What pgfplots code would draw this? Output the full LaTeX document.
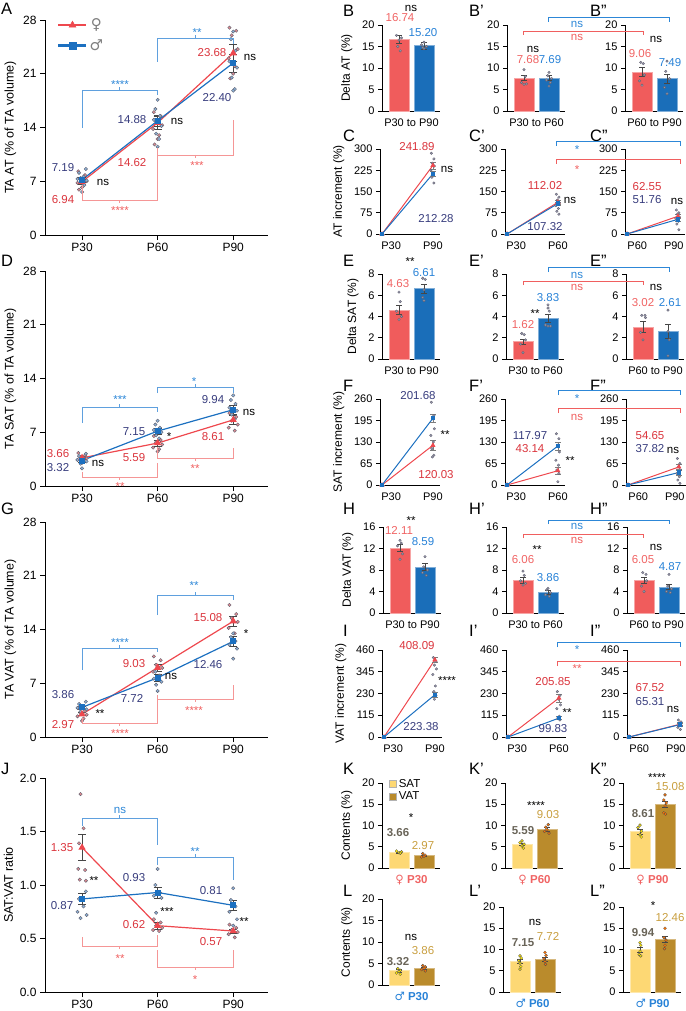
\documentclass[border=0pt]{standalone}
\usepackage{pgfplots}
\pgfplotsset{compat=1.18}
\usepackage{fontspec}
\setmainfont{Liberation Sans}
\newfontfamily\symf{DejaVu Sans}
\definecolor{redL}{RGB}{238,72,78}
\definecolor{blueL}{RGB}{28,112,192}
\definecolor{redB}{RGB}{240,92,92}
\definecolor{blueB}{RGB}{26,110,185}
\definecolor{redT}{RGB}{218,52,60}
\definecolor{navyT}{RGB}{55,60,125}
\definecolor{blueT}{RGB}{40,130,215}
\definecolor{pinkT}{RGB}{240,100,100}
\definecolor{brB}{RGB}{95,160,222}
\definecolor{brR}{RGB}{245,150,150}
\definecolor{stB}{RGB}{45,135,215}
\definecolor{stR}{RGB}{240,95,95}
\definecolor{satF}{RGB}{253,216,116}
\definecolor{vatF}{RGB}{186,139,44}
\definecolor{satT}{RGB}{105,100,88}
\definecolor{vatT}{RGB}{200,158,62}
\definecolor{errC}{RGB}{70,70,70}
\definecolor{dotRf}{RGB}{225,140,145}
\definecolor{dotBf}{RGB}{140,178,215}
\definecolor{dotE}{RGB}{95,95,110}
\definecolor{dotGf}{RGB}{150,150,170}
\newcommand\tk{\fontsize{11}{12}\selectfont}
\newcommand\tkb{\fontsize{12}{13}\selectfont}
\newcommand\vf{\fontsize{11.5}{12}\selectfont}
\newcommand\lf{\fontsize{12}{13}\selectfont}
\newcommand\lfb{\fontsize{12.5}{13}\selectfont}
\newcommand\pf{\fontsize{16.5}{17}\selectfont}
\newcommand\V[4]{\node[text=#1, font=\vf, inner sep=0pt] at (#2,#3) {#4};}
\newcommand\St[4]{\node[text=#1, font=\vf, inner sep=0pt, yshift=-2.5pt] at (#2,#3) {#4};}
\newcommand\Bk[7]{\draw[#1, line width=0.6pt] (#2,#3) -- (#2,#6) -- (#4,#6) -- (#4,#5); \draw[#1, line width=0.6pt] ({(#2+#4)/2},#6) -- ++(0,#7);}
\newcommand\PL[3]{\node[anchor=north west, inner sep=0pt, font=\pf] at (#1,#2) {#3};}
\pgfplotsset{
  base/.style={scale only axis, axis lines=left, axis line style={-, line width=0.7pt},
    tick align=outside, major tick length=4pt, tick style={black, line width=0.7pt},
    ticklabel style={font=\tk}, label style={font=\lf}, clip=false, ymin=0,
    /pgf/number format/assume math mode=true},
  big/.style={base, width=223pt, height=215pt, xmin=-0.49, xmax=2.46, xtick={0,1,2},
    xticklabels={P30,P60,P90}, major tick length=5pt, ticklabel style={font=\tkb}, label style={font=\lfb}},
  sline/.style={base, width=60pt, xmin=-0.04, xmax=1.14, xtick={0.18,1}, xtick style={draw=none}, ylabel shift=3pt},
  sbar/.style={base, width=58pt, height=86pt, xmin=-0.68, xmax=1.64, xtick={0.5}, xtick style={draw=none}, ylabel shift=3pt},
  dotR/.style={only marks, mark=*, mark size=1.7pt, mark options={fill=dotRf, draw=dotE, line width=0.4pt}},
  dotB/.style={only marks, mark=*, mark size=1.7pt, mark options={fill=dotBf, draw=dotE, line width=0.4pt}},
  dotG/.style={only marks, mark=*, mark size=1.3pt, mark options={fill=dotGf, draw=dotE, line width=0.3pt}},
  dotY/.style={only marks, mark=*, mark size=1.5pt, mark options={fill=yellow!90!orange, draw=black!70, line width=0.3pt}},
  dotO/.style={only marks, mark=*, mark size=1.5pt, mark options={fill=orange!90!red, draw=black!70, line width=0.3pt}},
  lineR/.style={redL, line width=1.2pt, mark=triangle*, mark size=3pt, mark options={fill=redL, draw=redL},
    error bars/.cd, y dir=both, y explicit, error bar style={errC, line width=0.5pt},
    error mark options={errC, rotate=90, mark size=4pt, line width=0.5pt}},
  lineB/.style={blueL, line width=1.2pt, mark=square*, mark size=2.4pt, mark options={fill=blueL, draw=blueL},
    error bars/.cd, y dir=both, y explicit, error bar style={errC, line width=0.5pt},
    error mark options={errC, rotate=90, mark size=4pt, line width=0.5pt}},
  lineRs/.style={redL, line width=1pt, mark=triangle*, mark size=2pt, mark options={fill=redL, draw=redL},
    error bars/.cd, y dir=both, y explicit, error bar style={errC!70, line width=0.5pt},
    error mark options={errC!70, rotate=90, mark size=3pt, line width=0.5pt}},
  lineBs/.style={blueL, line width=1pt, mark=square*, mark size=1.7pt, mark options={fill=blueL, draw=blueL},
    error bars/.cd, y dir=both, y explicit, error bar style={errC!70, line width=0.5pt},
    error mark options={errC!70, rotate=90, mark size=3pt, line width=0.5pt}},
  bR/.style={ybar, bar width=20pt, bar shift=0pt, fill=redB, draw=redB!55!white, line width=0.6pt,
    error bars/.cd, y dir=both, y explicit, error bar style={draw=errC, line width=0.5pt},
    error mark options={errC, rotate=90, mark size=3pt, line width=0.5pt}},
  bB/.style={ybar, bar width=20pt, bar shift=0pt, fill=blueB, draw=blueB!55!white, line width=0.6pt,
    error bars/.cd, y dir=both, y explicit, error bar style={draw=errC, line width=0.5pt},
    error mark options={errC, rotate=90, mark size=3pt, line width=0.5pt}},
  bS/.style={ybar, bar width=20pt, bar shift=0pt, fill=satF, draw=satF!60!white, line width=0.6pt,
    error bars/.cd, y dir=both, y explicit, error bar style={draw=errC, line width=0.5pt},
    error mark options={errC, rotate=90, mark size=3pt, line width=0.5pt}},
  bV/.style={ybar, bar width=20pt, bar shift=0pt, fill=vatF, draw=vatF!60!white, line width=0.6pt,
    error bars/.cd, y dir=both, y explicit, error bar style={draw=errC, line width=0.5pt},
    error mark options={errC, rotate=90, mark size=3pt, line width=0.5pt}},
}
\begin{document}
\begin{tikzpicture}
\useasboundingbox (0,0) rectangle (685pt,-1011pt);

% ================= A =================
\begin{axis}[big, at={(45pt,-235pt)}, anchor=south west, ymax=28, ytick={0,7,14,21,28}, ylabel={TA AT (\% of TA volume)},
  legend style={at={(0.054,1.015)}, anchor=north west, draw=none, fill=none, inner sep=0pt, row sep=4pt, font=\fontsize{15}{15}\selectfont},
  legend image code/.code={\draw[mark repeat=2,mark phase=2,#1] plot coordinates {(0pt,0pt)(14pt,0pt)(28pt,0pt)};}]
\addlegendimage{redL, line width=2.5pt, mark=triangle*, mark size=4pt, mark options={fill=redL, line width=0.5pt}}
\addlegendentry{\textcolor{gray}{\symf ♀}}
\addlegendimage{blueL, line width=2.5pt, mark=square*, mark size=3.3pt, mark options={fill=blueL, line width=0.5pt}}
\addlegendentry{\textcolor{gray}{\symf ♂}}
\addplot[dotR] coordinates {(-0.05,8.3)(0.04,7.8)(-0.02,7.4)(0.06,7.0)(-0.06,6.8)(0.02,6.6)(0,6.2)(-0.04,5.9)
 (0.95,16.0)(1.04,15.5)(0.98,14.8)(1.06,14.3)(0.94,13.8)(1.02,13.0)(1,12.5)(0.96,11.8)
 (1.95,27.0)(2.04,26.6)(1.98,26.0)(2.06,24.2)(1.94,23.0)(2.02,22.0)(2,21.0)(1.96,20.4)};
\addplot[dotB] coordinates {(0.05,8.6)(-0.04,8.1)(0.02,7.6)(-0.06,7.3)(0.06,7.1)(-0.02,6.9)(0.03,6.5)(0,5.6)
 (1.0,17.6)(0.97,16.4)(1.03,15.5)(0.95,15.0)(1.05,14.2)(0.98,13.2)(1.02,12.5)(1,11.5)
 (2,26.5)(1.97,25.5)(2.03,24.0)(1.95,22.6)(2.05,21.8)(1.98,20.5)(2.02,19.0)(2,18.8)};
\addplot[lineR] coordinates {(0,6.94) +- (0,0.35) (1,14.62) +- (0,0.8) (2,23.68) +- (0,1.1)};
\addplot[lineB] coordinates {(0,7.19) +- (0,0.3) (1,14.88) +- (0,0.7) (2,22.40) +- (0,1.2)};
\end{axis}

% ================= D =================
\begin{axis}[big, at={(45pt,-486pt)}, anchor=south west, ymax=28, ytick={0,7,14,21,28}, ylabel={TA SAT (\% of TA volume)}]
\addplot[dotR] coordinates {(-0.05,4.3)(0.04,4.0)(-0.02,3.8)(0.06,3.6)(-0.06,3.4)(0.02,3.2)(0,3.0)
 (0.95,6.5)(1.04,6.0)(0.98,5.7)(1.06,5.4)(0.94,5.0)(1.02,4.8)(1,4.5)
 (1.95,9.5)(2.04,9.0)(1.98,8.5)(2.06,8.0)(1.94,7.6)(2.02,7.2)};
\addplot[dotB] coordinates {(0.05,4.2)(-0.04,3.9)(0.02,3.6)(-0.06,3.4)(0.06,3.2)(-0.02,2.9)(0,2.3)
 (1.0,8.5)(0.97,8.0)(1.03,7.6)(0.95,7.3)(1.05,7.0)(0.98,6.6)(1.02,6.2)
 (2,11.8)(1.97,11.2)(2.03,10.7)(1.95,10.2)(2.05,9.8)(1.98,9.3)(2.02,8.7)};
\addplot[lineR] coordinates {(0,3.66) +- (0,0.2) (1,5.59) +- (0,0.4) (2,8.61) +- (0,0.6)};
\addplot[lineB] coordinates {(0,3.32) +- (0,0.2) (1,7.15) +- (0,0.4) (2,9.94) +- (0,0.6)};
\end{axis}

% ================= G =================
\begin{axis}[big, at={(45pt,-737pt)}, anchor=south west, ymax=28, ytick={0,7,14,21,28}, ylabel={TA VAT (\% of TA volume)}]
\addplot[dotR] coordinates {(-0.05,3.8)(0.04,3.4)(-0.02,3.1)(0.06,2.9)(-0.06,2.7)(0.02,2.4)(0,2.1)
 (0.95,10.5)(1.04,10.0)(0.98,9.4)(1.06,9.0)(0.94,8.5)(1.02,8.0)
 (1.95,17.2)(2.04,16.0)(1.98,15.5)(2.06,15.0)(1.94,14.2)(2.02,13.5)};
\addplot[dotB] coordinates {(0.05,4.6)(-0.04,4.3)(0.02,4.0)(-0.06,3.8)(0.06,3.6)(-0.02,3.3)(0,3.0)
 (1.0,9.2)(0.97,8.5)(1.03,8.0)(0.95,7.6)(1.05,7.2)(0.98,6.8)(1.0,6.0)
 (2,13.5)(1.97,13.0)(2.03,12.5)(1.95,12.0)(2.05,11.5)(2,10.2)};
\addplot[lineR] coordinates {(0,2.97) +- (0,0.2) (1,9.03) +- (0,0.5) (2,15.08) +- (0,0.6)};
\addplot[lineB] coordinates {(0,3.86) +- (0,0.2) (1,7.72) +- (0,0.5) (2,12.46) +- (0,0.6)};
\end{axis}

% ================= J =================
\begin{axis}[big, at={(45pt,-992pt)}, anchor=south west, height=214pt, ymax=2, ytick={0,0.5,1,1.5,2}, ylabel={SAT:VAT ratio},
  yticklabel style={/pgf/number format/.cd, fixed, fixed zerofill, precision=1}]
\addplot[dotR] coordinates {(-0.02,1.85)(0.02,1.53)(-0.04,1.39)(-0.05,1.15)(0.04,1.14)(-0.03,1.05)(0.05,1.04)
 (0.95,0.68)(1.04,0.65)(0.98,0.62)(1.06,0.60)(0.94,0.58)(1.02,0.57)
 (1.95,0.63)(2.04,0.60)(1.98,0.58)(2.06,0.56)(1.94,0.54)(2.02,0.51)};
\addplot[dotB] coordinates {(0.05,0.94)(-0.04,0.87)(0.02,0.80)(-0.06,0.75)(0.06,0.72)(-0.02,0.69)
 (1.0,1.15)(0.97,1.0)(1.03,0.93)(0.95,0.90)(1.05,0.88)(0.98,0.74)
 (2,0.97)(1.97,0.86)(2.03,0.80)(1.95,0.75)(2.05,0.68)(2,0.62)};
\addplot[lineR] coordinates {(0,1.35) +- (0,0.12) (1,0.62) +- (0,0.03) (2,0.57) +- (0,0.02)};
\addplot[lineB] coordinates {(0,0.87) +- (0,0.05) (1,0.93) +- (0,0.05) (2,0.81) +- (0,0.05)};
\end{axis}

% ================= B row =================
\begin{axis}[sbar, at={(382pt,-111pt)}, anchor=south west, ymax=20, ytick={0,5,10,15,20}, xticklabels={P30 to P90}, ylabel={Delta AT (\%)}]
\addplot[bR] coordinates {(0,16.74) +- (0,0.9)};
\addplot[bB] coordinates {(1,15.20) +- (0,0.8)};
\addplot[dotG] coordinates {(-0.1,17.6)(0.1,17.0)(0,16.5)(-0.05,15.0)(0.05,14.0)(1,16.0)(0.9,15.4)(1.1,15.0)(1.0,14.5)(0.95,14.8)};
\end{axis}
\begin{axis}[sbar, at={(507pt,-111pt)}, anchor=south west, ymax=20, ytick={0,5,10,15,20}, xticklabels={P30 to P60}]
\addplot[bR] coordinates {(0,7.68) +- (0,0.6)};
\addplot[bB] coordinates {(1,7.69) +- (0,0.6)};
\addplot[dotG] coordinates {(0,9.6)(0.05,8.0)(-0.1,6.6)(0.1,6.3)(0,6.2)(1,9.0)(0.95,8.2)(1.1,7.6)(0.9,7.2)(1.05,6.6)(1,5.8)};
\end{axis}
\begin{axis}[sbar, at={(625pt,-111pt)}, anchor=south west, ymax=20, ytick={0,5,10,15,20}, xticklabels={P60 to P90}]
\addplot[bR] coordinates {(0,9.06) +- (0,1.0)};
\addplot[bB] coordinates {(1,7.49) +- (0,1.0)};
\addplot[dotG] coordinates {(-0.05,11.3)(0.05,11.0)(0.1,8.4)(-0.1,7.0)(0,6.0)(1,11.6)(0.95,9.2)(1.1,7.5)(0.9,5.5)(1,4.0)};
\end{axis}

% ================= C row =================
\begin{axis}[sline, at={(380pt,-234pt)}, anchor=south west, height=85pt, ymax=300, ytick={0,75,150,225,300}, xticklabels={P30,P90}, ylabel={AT increment (\%)}]
\addplot[dotG] coordinates {(0.97,285)(1.02,265)(0.99,250)(1.03,240)(0.96,225)(1.01,215)(0.98,200)(1.02,180)};
\addplot[lineRs] coordinates {(0,0) +- (0,0) (1,241.89) +- (0,12)};
\addplot[lineBs] coordinates {(0,0) +- (0,0) (1,212.28) +- (0,10)};
\end{axis}
\begin{axis}[sline, at={(505pt,-234pt)}, anchor=south west, height=85pt, ymax=300, ytick={0,75,150,225,300}, xticklabels={P30,P60}]
\addplot[dotG] coordinates {(0.97,140)(1.02,130)(0.99,120)(1.03,110)(0.96,100)(1.01,90)(0.98,80)(1.02,70)};
\addplot[lineRs] coordinates {(0,0) +- (0,0) (1,112.02) +- (0,8)};
\addplot[lineBs] coordinates {(0,0) +- (0,0) (1,107.32) +- (0,6)};
\end{axis}
\begin{axis}[sline, at={(625pt,-234pt)}, anchor=south west, height=85pt, ymax=300, ytick={0,75,150,225,300}, xtick={0.2,0.92}, xticklabels={P60,P90}]
\addplot[dotG] coordinates {(0.97,85)(1.02,75)(0.99,70)(1.03,60)(0.96,55)(1.01,45)(0.98,35)(1.02,15)};
\addplot[lineRs] coordinates {(0,0) +- (0,0) (1,62.55) +- (0,6)};
\addplot[lineBs] coordinates {(0,0) +- (0,0) (1,51.76) +- (0,6)};
\end{axis}

% ================= E row =================
\begin{axis}[sbar, at={(382pt,-359pt)}, anchor=south west, height=85pt, ymax=8, ytick={0,2,4,6,8}, xticklabels={P30 to P90}, ylabel={Delta SAT (\%)}]
\addplot[bR] coordinates {(0,4.63) +- (0,0.45)};
\addplot[bB] coordinates {(1,6.61) +- (0,0.4)};
\addplot[dotG] coordinates {(0,6.3)(0.05,5.4)(-0.1,4.5)(0.1,4.0)(0,3.7)(0.95,7.6)(1.05,7.5)(1,6.5)(0.95,5.8)(1.0,5.5)};
\end{axis}
\begin{axis}[sbar, at={(506pt,-359pt)}, anchor=south west, height=85pt, ymax=8, ytick={0,2,4,6,8}, xticklabels={P30 to P60}]
\addplot[bR] coordinates {(0,1.62) +- (0,0.25)};
\addplot[bB] coordinates {(1,3.83) +- (0,0.4)};
\addplot[dotG] coordinates {(-0.05,2.4)(0.05,2.3)(0.1,1.8)(-0.1,1.4)(0,0.6)(1,5.1)(1.0,4.8)(1.05,4.5)(0.9,3.2)(1.0,3.1)(1.1,3.1)};
\end{axis}
\begin{axis}[sbar, at={(626pt,-359pt)}, anchor=south west, height=85pt, ymax=8, ytick={0,2,4,6,8}, xticklabels={P60 to P90}]
\addplot[bR] coordinates {(0,3.02) +- (0,0.5)};
\addplot[bB] coordinates {(1,2.61) +- (0,0.7)};
\addplot[dotG] coordinates {(-0.05,4.1)(0.08,4.1)(0.1,3.9)(-0.1,2.5)(0,1.8)(1,4.6)(1.0,2.6)(1.05,1.8)(1,0.3)};
\end{axis}

% ================= F row =================
\begin{axis}[sline, at={(380pt,-485pt)}, anchor=south west, height=86pt, ymax=260, ytick={0,65,130,195,260}, xticklabels={P30,P90}, ylabel={SAT increment (\%)}]
\addplot[dotG] coordinates {(0.97,250)(1.02,210)(0.99,200)(1.03,170)(0.96,150)(1.01,130)(0.98,110)(1.02,90)(0.99,85)};
\addplot[lineRs] coordinates {(0,0) +- (0,0) (1,120.03) +- (0,15)};
\addplot[lineBs] coordinates {(0,0) +- (0,0) (1,201.68) +- (0,12)};
\end{axis}
\begin{axis}[sline, at={(505pt,-485pt)}, anchor=south west, height=86pt, ymax=260, ytick={0,65,130,195,260}, xticklabels={P30,P60}]
\addplot[dotG] coordinates {(0.97,155)(1.02,140)(0.99,120)(1.03,100)(0.96,75)(1.01,60)(0.98,45)(1.02,35)(1.0,10)};
\addplot[lineRs] coordinates {(0,0) +- (0,0) (1,43.14) +- (0,10)};
\addplot[lineBs] coordinates {(0,0) +- (0,0) (1,117.97) +- (0,12)};
\end{axis}
\begin{axis}[sline, at={(626pt,-485pt)}, anchor=south west, height=86pt, ymax=260, ytick={0,65,130,195,260}, xtick={0.2,0.92}, xticklabels={P60,P90}]
\addplot[dotG] coordinates {(0.97,80)(1.02,65)(0.99,55)(1.03,45)(0.96,35)(1.01,25)(0.98,15)(1.02,5)};
\addplot[lineRs] coordinates {(0,0) +- (0,0) (1,54.65) +- (0,8)};
\addplot[lineBs] coordinates {(0,0) +- (0,0) (1,37.82) +- (0,8)};
\end{axis}

% ================= H row =================
\begin{axis}[sbar, at={(383pt,-613pt)}, anchor=south west, ymax=16, ytick={0,4,8,12,16}, xticklabels={P30 to P90}, ylabel={Delta VAT (\%)}]
\addplot[bR] coordinates {(0,12.11) +- (0,0.6)};
\addplot[bB] coordinates {(1,8.59) +- (0,0.6)};
\addplot[dotG] coordinates {(0,13.5)(0.05,13.0)(-0.1,12.5)(0.1,11.0)(0,10.0)(1,10.5)(0.95,8.6)(1.1,8.0)(0.9,7.5)(1.05,7.0)};
\end{axis}
\begin{axis}[sbar, at={(506pt,-613pt)}, anchor=south west, ymax=16, ytick={0,4,8,12,16}, xticklabels={P30 to P60}]
\addplot[bR] coordinates {(0,6.06) +- (0,0.5)};
\addplot[bB] coordinates {(1,3.86) +- (0,0.3)};
\addplot[dotG] coordinates {(0,7.8)(0.05,7.0)(-0.1,6.0)(0.1,5.5)(0,5.2)(1,4.6)(0.95,4.3)(1.1,3.8)(0.9,3.4)(1.05,3.1)};
\end{axis}
\begin{axis}[sbar, at={(627pt,-613pt)}, anchor=south west, ymax=16, ytick={0,4,8,12,16}, xticklabels={P60 to P90}]
\addplot[bR] coordinates {(0,6.05) +- (0,0.6)};
\addplot[bB] coordinates {(1,4.87) +- (0,0.5)};
\addplot[dotG] coordinates {(-0.05,7.5)(0.08,7.2)(0.1,6.0)(-0.1,5.0)(0,4.0)(1,7.2)(0.95,5.0)(1.1,4.5)(0.9,4.0)(1.05,3.8)};
\end{axis}

% ================= I row =================
\begin{axis}[sline, at={(382pt,-737pt)}, anchor=south west, height=87pt, ymax=460, ytick={0,115,230,345,460}, xticklabels={P30,P90}, ylabel={VAT increment (\%)}]
\addplot[dotG] coordinates {(0.97,420)(1.02,400)(0.99,380)(1.03,360)(0.96,330)(1.01,270)(0.98,240)(1.02,220)(0.99,200)};
\addplot[lineRs] coordinates {(0,0) +- (0,0) (1,408.09) +- (0,15)};
\addplot[lineBs] coordinates {(0,0) +- (0,0) (1,223.38) +- (0,15)};
\end{axis}
\begin{axis}[sline, at={(506pt,-737pt)}, anchor=south west, height=87pt, ymax=460, ytick={0,115,230,345,460}, xticklabels={P30,P60}]
\addplot[dotG] coordinates {(0.97,240)(1.02,220)(0.99,200)(1.03,170)(0.96,150)(1.01,110)(0.98,100)(1.02,90)};
\addplot[lineRs] coordinates {(0,0) +- (0,0) (1,205.85) +- (0,20)};
\addplot[lineBs] coordinates {(0,0) +- (0,0) (1,99.83) +- (0,8)};
\end{axis}
\begin{axis}[sline, at={(627pt,-737pt)}, anchor=south west, height=87pt, ymax=460, ytick={0,115,230,345,460}, xtick={0.2,0.92}, xticklabels={P60,P90}]
\addplot[dotG] coordinates {(0.97,90)(1.02,80)(0.99,70)(1.03,60)(0.96,50)(1.01,40)};
\addplot[lineRs] coordinates {(0,0) +- (0,0) (1,67.52) +- (0,8)};
\addplot[lineBs] coordinates {(0,0) +- (0,0) (1,65.31) +- (0,8)};
\end{axis}

% ================= K row =================
\begin{axis}[sbar, at={(382pt,-868pt)}, anchor=south west, height=85pt, ymax=20, ytick={0,5,10,15,20}, ylabel={Contents (\%)},
  xticklabels={{\symf ♀} \textbf{P30}}, xticklabel style={text=pinkT, font=\vf},
  legend style={at={(0.12,1.07)}, anchor=north west, draw=none, fill=none, inner sep=0pt, font=\vf, row sep=-1pt},
  legend cell align=left]
\addplot[legend image code/.code={\draw[fill=satF, draw=gray!60] (0pt,-3.5pt) rectangle (7pt,3.5pt);}, bS] coordinates {(0,3.66) +- (0,0.15)};
\addlegendentry{SAT}
\addplot[legend image code/.code={\draw[fill=vatF, draw=gray!60] (0pt,-3.5pt) rectangle (7pt,3.5pt);}, bV] coordinates {(1,2.97) +- (0,0.15)};
\addlegendentry{VAT}
\addplot[forget plot, dotY] coordinates {(-0.1,4.0)(0.1,3.8)(0,3.6)(0.05,3.5)};
\addplot[forget plot, dotO] coordinates {(0.95,3.4)(1.05,3.0)(1,2.8)(0.9,2.6)};
\end{axis}
\begin{axis}[sbar, at={(505pt,-868pt)}, anchor=south west, height=85pt, ymax=20, ytick={0,5,10,15,20},
  xticklabels={{\symf ♀} \textbf{P60}}, xticklabel style={text=pinkT, font=\vf}]
\addplot[bS] coordinates {(0,5.59) +- (0,0.35)};
\addplot[bV] coordinates {(1,9.03) +- (0,0.45)};
\addplot[dotY] coordinates {(0,6.4)(-0.08,6.0)(0.08,5.6)(0,5.2)(0.05,4.7)};
\addplot[dotO] coordinates {(1.05,10.2)(0.95,9.6)(1,9.0)(0.9,8.6)(1.08,8.2)};
\end{axis}
\begin{axis}[sbar, at={(623pt,-868pt)}, anchor=south west, height=85pt, ymax=20, ytick={0,5,10,15,20},
  xticklabels={{\symf ♀} \textbf{P90}}, xticklabel style={text=pinkT, font=\vf}]
\addplot[bS] coordinates {(0,8.61) +- (0,0.6)};
\addplot[bV] coordinates {(1,15.08) +- (0,0.7)};
\addplot[dotY] coordinates {(0,10.1)(-0.08,9.5)(0.05,8.7)(0,7.8)(0.05,7.3)};
\addplot[dotO] coordinates {(1,17.2)(0.95,16.0)(1.05,15.3)(1,14.6)(0.95,13.0)(1.02,12.7)};
\end{axis}

% ================= L row =================
\begin{axis}[sbar, at={(382pt,-985pt)}, anchor=south west, height=86pt, ymax=20, ytick={0,5,10,15,20}, ylabel={Contents (\%)},
  xticklabels={{\symf ♂} \textbf{P30}}, xticklabel style={text=blueT, font=\vf}]
\addplot[bS] coordinates {(0,3.32) +- (0,0.25)};
\addplot[bV] coordinates {(1,3.86) +- (0,0.25)};
\addplot[dotY] coordinates {(-0.05,3.8)(0.05,3.4)(0,3.1)(-0.1,2.8)(0.05,2.5)};
\addplot[dotO] coordinates {(0.95,4.5)(1.05,4.2)(1,3.9)(0.9,3.6)(1.05,3.3)};
\end{axis}
\begin{axis}[sbar, at={(503pt,-992pt)}, anchor=south west, height=85pt, ymax=20, ytick={0,5,10,15,20},
  xticklabels={{\symf ♂} \textbf{P60}}, xticklabel style={text=blueT, font=\vf}]
\addplot[bS] coordinates {(0,7.15) +- (0,0.5)};
\addplot[bV] coordinates {(1,7.72) +- (0,0.5)};
\addplot[dotY] coordinates {(0,8.5)(0.05,8.0)(-0.05,7.4)(0,6.8)(0.03,6.0)(0,5.4)};
\addplot[dotO] coordinates {(1,9.3)(1.04,8.6)(0.96,7.8)(1,7.2)(1.02,6.5)};
\end{axis}
\begin{axis}[sbar, at={(623pt,-992pt)}, anchor=south west, height=85pt, ymax=20, ytick={0,5,10,15,20},
  xticklabels={{\symf ♂} \textbf{P90}}, xticklabel style={text=blueT, font=\vf}]
\addplot[bS] coordinates {(0,9.94) +- (0,0.55)};
\addplot[bV] coordinates {(1,12.46) +- (0,0.7)};
\addplot[dotY] coordinates {(0,11.6)(0.03,11.0)(0,9.6)(-0.03,8.8)(0.03,8.5)};
\addplot[dotO] coordinates {(1,15.0)(0.96,12.8)(1.04,12.2)(1,11.0)(0.98,10.2)};
\end{axis}

% ================= annotations =================
\begin{scope}[x=1pt,y=-1pt]
\PL{1}{3}{A}\PL{1}{255}{D}\PL{1}{503}{G}\PL{1}{763}{J}
\PL{343}{5}{B}\PL{469}{5}{B’}\PL{590}{5}{B”}
\PL{343}{130}{C}\PL{469}{130}{C’}\PL{590}{130}{C”}
\PL{343}{255}{E}\PL{469}{255}{E’}\PL{590}{255}{E”}
\PL{343}{380}{F}\PL{469}{380}{F’}\PL{590}{380}{F”}
\PL{343}{503}{H}\PL{469}{503}{H’}\PL{590}{503}{H”}
\PL{343}{625}{I}\PL{469}{625}{I’}\PL{590}{625}{I”}
\PL{343}{763}{K}\PL{469}{763}{K’}\PL{590}{763}{K”}
\PL{343}{885}{L}\PL{469}{885}{L’}\PL{590}{885}{L”}
% A
\V{navyT}{63}{168}{7.19}\V{redT}{63}{200}{6.94}\V{black}{103}{182}{ns}
\V{navyT}{132}{120}{14.88}\V{black}{177}{121}{ns}\V{redT}{132}{163}{14.62}
\V{redT}{212}{53}{23.68}\V{navyT}{217}{98}{22.40}\V{black}{250}{57}{ns}
\Bk{brB}{82}{128}{157}{95}{90}{-3}\St{stB}{120}{82}{****}
\Bk{brB}{157}{62}{233}{44}{38}{-3}\St{stB}{197}{30}{**}
\Bk{brR}{82}{185}{157}{148}{200}{3}\St{stR}{120}{208}{****}
\Bk{brR}{157}{152}{233}{120}{155}{3}\St{stR}{197}{163}{***}
% D
\V{redT}{58}{454}{3.66}\V{navyT}{58}{468}{3.32}\V{black}{98}{463}{ns}
\V{navyT}{134}{432}{7.15}\St{black}{169}{434}{*}\V{redT}{134}{458}{5.59}
\V{navyT}{213}{400}{9.94}\V{redT}{213}{437}{8.61}\V{black}{249}{412}{ns}
\Bk{brB}{82}{423}{157}{412}{407}{-3}\St{stB}{120}{397}{***}
\Bk{brB}{157}{393}{233}{393}{387}{-3}\St{stB}{194}{379}{*}
\Bk{brR}{82}{472}{157}{463}{477}{3}\St{stR}{120}{484}{**}
\Bk{brR}{157}{447}{233}{448}{458}{3}\St{stR}{195}{466}{**}
% G
\V{navyT}{63}{695}{3.86}\V{redT}{63}{725}{2.97}\St{black}{100}{711}{**}
\V{redT}{134}{664}{9.03}\V{navyT}{132}{698}{7.72}\V{black}{171}{676}{ns}
\V{redT}{208}{618}{15.08}\V{navyT}{208}{665}{12.46}\St{black}{246}{631}{*}
\Bk{brB}{82}{670}{157}{652}{648}{-3}\St{stB}{120}{640}{****}
\Bk{brB}{157}{615}{233}{600}{595}{-3}\St{stB}{194}{583}{**}
\Bk{brR}{82}{718}{157}{700}{723}{3}\St{stR}{120}{731}{****}
\Bk{brR}{157}{695}{233}{685}{699}{3}\St{stR}{194}{708}{****}
% J
\V{redT}{62}{848}{1.35}\V{navyT}{62}{906}{0.87}\St{black}{94}{878}{**}
\V{navyT}{134}{878}{0.93}\V{redT}{134}{925}{0.62}\St{black}{167}{909}{***}
\V{navyT}{211}{891}{0.81}\V{redT}{211}{942}{0.57}\St{black}{244}{919}{**}
\Bk{brB}{82}{826}{157}{845}{818}{-3}\V{stB}{120}{810}{ns}
\Bk{brB}{157}{865}{233}{880}{857}{-3}\St{stB}{195}{849}{**}
\Bk{brR}{82}{937}{157}{935}{946}{3}\St{stR}{120}{956}{**}
\Bk{brR}{157}{950}{233}{950}{967}{3}\St{stR}{195}{977}{*}
% B row
\V{pinkT}{400}{18}{16.74}\V{blueT}{423}{33}{15.20}\V{black}{411}{8}{ns}
\V{pinkT}{528}{60}{7.68}\V{blueT}{550}{60}{7.69}\V{black}{533}{49}{ns}
\V{pinkT}{640}{54}{9.06}\V{blueT}{670}{63}{7.49}\V{black}{656}{39}{ns}
\Bk{stB}{548}{22}{669}{22}{17}{0}\V{stB}{577}{24}{ns}
\Bk{stR}{523}{35}{643}{35}{31}{0}\V{stR}{577}{37}{ns}
% C row
\V{redT}{417}{147}{241.89}\V{navyT}{436}{219}{212.28}\V{black}{447}{169}{ns}
\V{redT}{545}{186}{112.02}\V{navyT}{545}{227}{107.32}\V{black}{570}{200}{ns}
\V{redT}{647}{187}{62.55}\V{navyT}{647}{200}{51.76}\V{black}{677}{201}{ns}
\Bk{stB}{556}{146}{680}{146}{141}{0}\St{stB}{577}{147}{*}
\Bk{stR}{556}{164}{680}{164}{159}{0}\St{stR}{577}{167}{*}
% E row
\V{pinkT}{398}{284}{4.63}\V{blueT}{424}{273}{6.61}\St{black}{410}{259}{**}
\V{pinkT}{523}{325}{1.62}\V{blueT}{548}{298}{3.83}\St{black}{535}{311}{**}
\V{pinkT}{643}{303}{3.02}\V{blueT}{670}{303}{2.61}\V{black}{656}{287}{ns}
\Bk{stB}{548}{272}{669}{272}{267}{0}\V{stB}{577}{275}{ns}
\Bk{stR}{523}{285}{643}{285}{281}{0}\V{stR}{577}{287}{ns}
% F row
\V{navyT}{418}{396}{201.68}\V{redT}{436}{475}{120.03}\St{black}{445}{432}{**}
\V{navyT}{530}{436}{117.97}\V{redT}{530}{449}{43.14}\St{black}{570}{458}{**}
\V{redT}{650}{436}{54.65}\V{navyT}{650}{449}{37.82}\V{black}{673}{450}{ns}
\Bk{stB}{558}{395}{680}{395}{390}{0}\St{stB}{577}{396}{*}
\Bk{stR}{558}{413}{680}{413}{408}{0}\V{stR}{577}{417}{ns}
% H row
\V{pinkT}{399}{530}{12.11}\V{blueT}{423}{542}{8.59}\St{black}{411}{518}{**}
\V{pinkT}{523}{560}{6.06}\V{blueT}{548}{578}{3.86}\St{black}{537}{547}{**}
\V{pinkT}{643}{560}{6.05}\V{blueT}{670}{567}{4.87}\V{black}{656}{547}{ns}
\Bk{stB}{548}{524}{669}{524}{520}{0}\V{stB}{577}{526}{ns}
\Bk{stR}{523}{538}{643}{538}{534}{0}\V{stR}{577}{540}{ns}
% I row
\V{redT}{417}{646}{408.09}\V{navyT}{421}{727}{223.38}\St{black}{447}{678}{****}
\V{redT}{553}{682}{205.85}\V{navyT}{553}{729}{99.83}\St{black}{567}{710}{**}
\V{redT}{650}{688}{67.52}\V{navyT}{650}{702}{65.31}\V{black}{673}{709}{ns}
\Bk{stB}{557}{647}{680}{647}{642}{0}\St{stB}{577}{647}{*}
\Bk{stR}{557}{666}{680}{666}{661}{0}\St{stR}{577}{666}{**}
% K row
\V{satT}{398}{833}{\bfseries 3.66}\V{vatT}{423}{846}{2.97}\St{black}{411}{815}{*}
\V{satT}{523}{831}{\bfseries 5.59}\V{vatT}{548}{815}{9.03}\St{black}{536}{803}{****}
\V{satT}{643}{814}{\bfseries 8.61}\V{vatT}{670}{787}{15.08}\St{black}{657}{775}{****}
% L row
\V{satT}{398}{962}{\bfseries 3.32}\V{vatT}{423}{951}{3.86}\V{black}{411}{937}{ns}
\V{satT}{523}{943}{\bfseries 7.15}\V{vatT}{548}{936}{7.72}\V{black}{535}{922}{ns}
\V{satT}{643}{933}{\bfseries 9.94}\V{vatT}{670}{918}{12.46}\St{black}{653}{903}{*}
\end{scope}
\end{tikzpicture}
\end{document}
